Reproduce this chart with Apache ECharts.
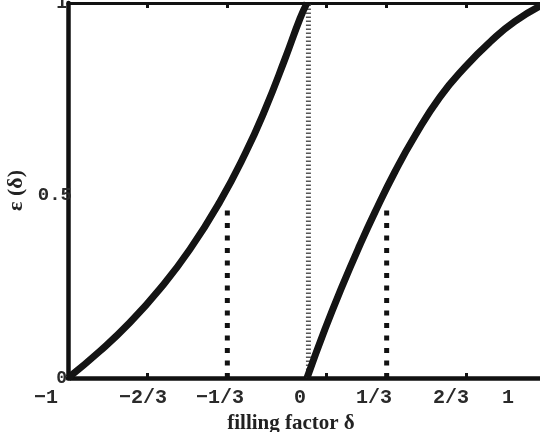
<!DOCTYPE html>
<html>
<head>
<meta charset="utf-8">
<script src="https://cdn.jsdelivr.net/npm/echarts@6/dist/echarts.min.js"></script>
<style>html,body{margin:0;padding:0;background:#fff;}#c{width:540px;height:432px;}</style>
</head>
<body>
<div id="c"></div>
<script>
// ---- data ----
const leftDelta  = [-1, -0.866, -0.741, -0.615, -0.490, -0.364, -0.259, -0.176, -0.092, -0.029, 0];
const leftF      = [0, 0.072, 0.148, 0.238, 0.343, 0.471, 0.598, 0.715, 0.851, 0.959, 1];
const rightDelta = [0, 0.075, 0.146, 0.218, 0.285, 0.368, 0.452, 0.556, 0.661, 0.766, 0.870, 1];
const rightF     = [0, 0.130, 0.243, 0.350, 0.443, 0.550, 0.646, 0.749, 0.829, 0.896, 0.951, 1];
const guideDelta = [-1/3, 1/3];
const guideTop   = [0.467, 0.462];
const centerDelta = 0.006;
const xTickValues = [-0.991, -2/3, -1/3, 0, 1/3, 2/3, 1];
const xTickLabels = ['\u22121', '\u22122/3', '\u22121/3', '0', '1/3', '2/3', '1'];
const xMinorTicks = [-2/3, -1/3, 0.08, 1/3, 2/3];
const yTickValues = [0, 0.5, 1];
const yTickLabels = ['0', '0.5', '1'];
const xName = 'filling factor \u03b4';
const yName = '\u03b5 (\u03b4)';

const pairs = (xs, ys) => xs.map((x, i) => [x, ys[i]]);

const chart = echarts.init(document.getElementById('c'), null, {renderer: 'canvas'});
const tickFont = {fontFamily: 'Liberation Mono', fontWeight: 'bold', color: '#2a2a2a'};

const option = {
  animation: false,
  backgroundColor: '#fff',
  grid: {left: 68, top: 3, width: 478, height: 375, containLabel: false, outerBoundsMode: 'none'},
  xAxis: [
    { // main data axis (bottom frame)
      type: 'value', min: -1, max: 1, position: 'bottom',
      axisLine: {show: true, onZero: false, lineStyle: {color: '#111', width: 4.5}},
      axisTick: {show: true, inside: true, length: 5, customValues: xMinorTicks, lineStyle: {color: '#111', width: 3}},
      axisLabel: {show: false},
      splitLine: {show: false}
    },
    { // label axis (labels as placed in the reference)
      type: 'value', min: -0.991, max: 1.078, position: 'bottom',
      axisLine: {show: false}, axisTick: {show: false}, splitLine: {show: false},
      axisLabel: {
        show: true, margin: 10, customValues: xTickValues, fontSize: 20, ...tickFont,
        showMinLabel: true, showMaxLabel: true, hideOverlap: false,
        formatter: function (v) {
          let i = xTickValues.findIndex(t => Math.abs(t - v) < 1e-6);
          if (i < 0) return '';
          if (i === 0) return '{a|' + xTickLabels[i] + '}';
          if (i === xTickValues.length - 1) return '{b|' + xTickLabels[i] + '}';
          if (i === 3) return '{c|' + xTickLabels[i] + '}';
          return xTickLabels[i];
        },
        rich: {
          a: {fontSize: 20, ...tickFont, padding: [0, 44, 0, 0]},
          b: {fontSize: 20, ...tickFont, padding: [0, 40, 0, 0]},
          c: {fontSize: 20, ...tickFont, padding: [0, 0, 0, 6]}
        }
      },
      name: xName, nameLocation: 'middle', nameGap: 32,
      nameTextStyle: {fontFamily: 'Liberation Serif', fontWeight: 'bold', fontSize: 21, color: '#222', padding: [0, 32, 0, 0]}
    },
    { // top frame
      type: 'value', min: -1, max: 1, position: 'top',
      axisLine: {show: true, onZero: false, lineStyle: {color: '#111', width: 3}},
      axisTick: {show: true, inside: true, length: 5, customValues: xMinorTicks, lineStyle: {color: '#111', width: 3}},
      axisLabel: {show: false}, splitLine: {show: false}
    }
  ],
  yAxis: {
    type: 'value', min: 0, max: 1,
    axisLine: {show: true, onZero: false, lineStyle: {color: '#111', width: 4.5}},
    axisTick: {show: false}, splitLine: {show: false},
    axisLabel: {
      show: true, margin: -4, customValues: yTickValues, fontSize: 19, ...tickFont,
      formatter: function (v) {
        let i = yTickValues.findIndex(t => Math.abs(t - v) < 1e-6);
        if (i < 0) return '';
        if (i === 1) return '{m|' + yTickLabels[i] + '}';
        return '{o|' + yTickLabels[i] + '}';
      },
      rich: {
        m: {fontSize: 19, ...tickFont, padding: [9, 0, 0, 0]},
        o: {fontSize: 18, ...tickFont, padding: [0, 5, 0, 0]}
      }
    },
    name: yName, nameLocation: 'middle', nameGap: 34, nameRotate: 90,
    nameTextStyle: {fontFamily: 'Liberation Serif', fontWeight: 'bold', fontSize: 22, color: '#222'}
  },
  series: [
    {
      type: 'line', xAxisIndex: 0, data: [[centerDelta, 0], [centerDelta, 1]],
      symbol: 'none', lineStyle: {color: '#555', width: 5, type: [1.5, 2.5]}, z: 1
    },
    {
      type: 'line', xAxisIndex: 0, data: [[guideDelta[0], 0], [guideDelta[0], guideTop[0]]],
      symbol: 'none', lineStyle: {color: '#111', width: 5, type: [5, 7.5]}, z: 2
    },
    {
      type: 'line', xAxisIndex: 0, data: [[guideDelta[1], 0], [guideDelta[1], guideTop[1]]],
      symbol: 'none', lineStyle: {color: '#111', width: 5, type: [5, 7.5]}, z: 2
    },
    {
      type: 'line', xAxisIndex: 0, data: pairs(leftDelta, leftF), smooth: 0.5,
      symbol: 'none', lineStyle: {color: '#141414', width: 7}, z: 3
    },
    {
      type: 'line', xAxisIndex: 0, data: pairs(rightDelta, rightF), smooth: 0.5,
      symbol: 'none', lineStyle: {color: '#141414', width: 7}, z: 3
    }
  ]
};
chart.setOption(option);
</script>
</body>
</html>
